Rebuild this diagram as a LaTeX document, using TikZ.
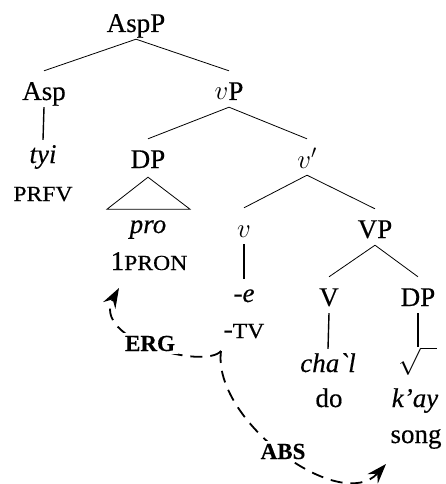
\RequirePackage{fix-cm}
\documentclass[tikz,border=0pt]{standalone}
\usepackage{fontspec}
\setmainfont{Liberation Serif}[Ligatures=TeXOff, FakeBold=0.4]
\newfontfamily\capsfont[FakeStretch=1.1, FakeBold=0.4]{Liberation Serif}
\usetikzlibrary{arrows.meta}
% reduced capitals for glosses
\newcommand\smcap[1]{{\capsfont\fontsize{21.5}{25}\selectfont #1}}

\begin{document}
\begin{tikzpicture}[x=1pt,y=-1pt,
  every node/.style={font=\fontsize{27}{31}\selectfont},
  lab/.style={anchor=base, inner sep=0pt},
  cat/.style={lab, text height=29pt, text depth=7pt},
  leaf/.style={lab, text height=23pt, text depth=7pt},
  branch/.style={line width=0.8pt},
  unary/.style={line width=1.4pt},
  caseline/.style={line width=1.8pt, dash pattern=on 12pt off 8pt,
    -{Stealth[length=20pt,width=14pt,inset=7pt]}},
  caselabel/.style={lab, fill=white, inner sep=3pt,
    font=\fontsize{23}{27}\selectfont\bfseries}
]
\useasboundingbox (0,0) rectangle (445,484);

% tree nodes
\node[cat]  (aspp) at (136,32) {AspP};
\node[cat]  (asp)  at (44,100) {Asp};
\node[cat]  (vp)   at (229,100) {$v$P};
\node[leaf] (tyi)  at (43,163) {\textit{tyi}};
\node[lab]  (prfv) at (43,201) {\smcap{PRFV}};
\node[cat]  (dpa)  at (148,168) {DP};
\node[cat]  (vbar) at (307,168) {$v'$};
\node[lab]  (pro)  at (148,233) {\textit{pro}};
\node[lab]  (pron) at (149,270) {1\smcap{PRON}};
\node[cat]  (vlt)  at (244,237) {$v$};
\node[cat]  (vpp)  at (375,238) {VP};
\node[leaf] (suf)  at (244,302) {\textit{-e}};
\node[lab]  (tv)   at (244,338) {-\smcap{TV}};
\node[cat]  (verb) at (329,306) {V};
\node[cat]  (dpb)  at (418,306) {DP};
\node[leaf] (chal) at (328,372) {\textit{cha`l}};
\node[lab]  (do)   at (329,407) {do};
\node[anchor=north west, inner sep=0pt] (root) at (398,347) {$\sqrt{\hspace{16pt}}$};
\node[lab]  (kay)  at (415,407) {\textit{k’ay}};
\node[lab]  (song) at (416,443) {song};

% branches
\draw[branch] (aspp.south) -- (asp.north);
\draw[branch] (aspp.south) -- (vp.north);
\draw[unary]  (asp.south) -- (tyi.north);
\draw[branch] (vp.south) -- (dpa.north);
\draw[branch] (vp.south) -- (vbar.north);
\draw[branch] ([yshift=-2pt]dpa.south) -- ++(-41,32) -- ++(83,0) -- cycle;
\draw[branch] (vbar.south) -- (vlt.north);
\draw[branch] (vbar.south) -- (vpp.north);
\draw[unary]  (vlt.south) -- (suf.north);
\draw[branch] (vpp.south) -- (verb.north);
\draw[branch] (vpp.south) -- (dpb.north);
\draw[unary]  (verb.south) -- (chal.north);
\draw[unary]  (dpb.south) -- (dpb.south |- root.north);

% case assignment arrows
\coordinate (split)  at (221,351);
\coordinate (ergend) at (119,288);
\coordinate (absend) at (386,464);
\draw[caseline] (split) .. controls (205,370) and (90,340) .. (ergend);
\draw[caseline] (split) .. controls (212,420) and (340,515) .. (absend);
\node[caselabel] (erg) at (150,351) {ERG};
\node[caselabel] (abs) at (283,459) {ABS};
\end{tikzpicture}
\end{document}
